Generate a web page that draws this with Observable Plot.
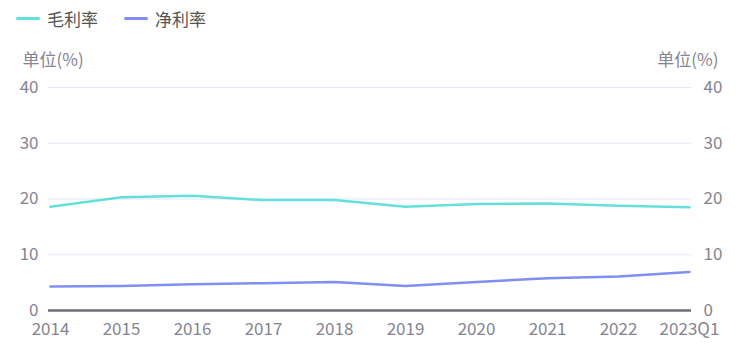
<!DOCTYPE html>
<html>
<head>
<meta charset="utf-8">
<script src="https://cdn.jsdelivr.net/npm/d3@7"></script>
<script src="https://cdn.jsdelivr.net/npm/@observablehq/plot@0.6"></script>
<style>
  body { margin: 0; background: #fff; font-family: "Noto Sans CJK SC", "Noto Sans", sans-serif; }
  #legend { height: 40px; position: relative; font-size: 17px; color: #555; }
  .item { position: absolute; top: 6px; display: flex; align-items: center; }
  .sw { width: 24px; height: 3px; border-radius: 2px; margin-right: 7px; }
</style>
</head>
<body>
<div id="legend"></div>
<div id="chart"></div>
<script>
const categories = ["2014","2015","2016","2017","2018","2019","2020","2021","2022","2023Q1"];
const grossMargin = [18.6, 20.3, 20.6, 19.8, 19.8, 18.6, 19.1, 19.2, 18.8, 18.5];
const netMargin = [4.3, 4.4, 4.7, 4.9, 5.1, 4.4, 5.1, 5.8, 6.1, 6.9];
const seriesNames = ["毛利率", "净利率"];
const seriesColors = ["#63e0dc", "#7f8ef2"];
const yTicks = [0, 10, 20, 30, 40];
const unitLabel = "单位(%)";

const legend = document.getElementById("legend");
const lefts = [16, 124];
seriesNames.forEach((n, i) => {
  const d = document.createElement("div");
  d.className = "item";
  d.style.left = lefts[i] + "px";
  d.innerHTML = `<div class="sw" style="background:${seriesColors[i]}"></div><span>${n}</span>`;
  legend.appendChild(d);
});

const data = [];
categories.forEach((c, i) => {
  data.push({cat: c, value: grossMargin[i], series: seriesNames[0]});
  data.push({cat: c, value: netMargin[i], series: seriesNames[1]});
});

const tickColor = "#85858f";
const fs = 17;
const plot = Plot.plot({
  width: 749,
  height: 311,
  marginLeft: 48,
  marginRight: 58,
  marginTop: 47,
  marginBottom: 41,
  style: {fontFamily: '"Noto Sans CJK SC", "Noto Sans", sans-serif', fontSize: fs + "px", color: tickColor, background: "#fff"},
  x: {type: "point", domain: categories, padding: 0},
  y: {domain: [0, 40]},
  color: {domain: seriesNames, range: seriesColors},
  marks: [
    Plot.gridY(yTicks, {stroke: "#e3e6f4", strokeOpacity: 1, strokeWidth: 1}),
    Plot.axisY(yTicks, {anchor: "left", tickSize: 0, tickPadding: 10, label: null, fill: tickColor, fontSize: fs}),
    Plot.axisY(yTicks, {anchor: "right", tickSize: 0, tickPadding: 12, label: null, fill: tickColor, fontSize: fs}),
    Plot.axisX({tickSize: 0, tickPadding: 12, label: null, fill: tickColor, fontSize: fs}),
    Plot.ruleY([0], {stroke: "#6e6e7a", strokeWidth: 2.5}),
    Plot.line(data, {x: "cat", y: "value", z: "series", stroke: "series", strokeWidth: 2.5}),
    Plot.text([unitLabel], {frameAnchor: "top-left", text: d => d, dx: -26, dy: -34, textAnchor: "start", fill: tickColor, fontSize: fs}),
    Plot.text([unitLabel], {frameAnchor: "top-right", text: d => d, dx: 27, dy: -34, textAnchor: "end", fill: tickColor, fontSize: fs})
  ]
});
document.getElementById("chart").appendChild(plot);
</script>
</body>
</html>
